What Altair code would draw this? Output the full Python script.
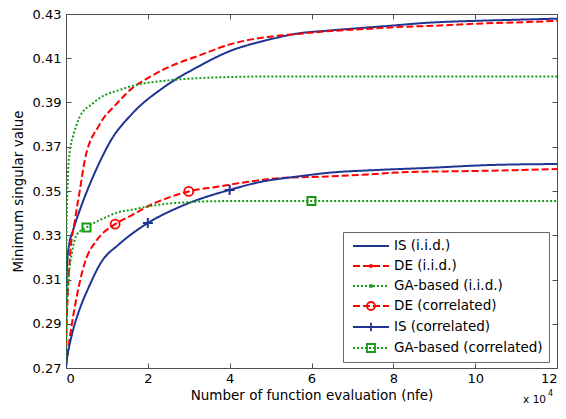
import altair as alt
import pandas as pd

# ---------------- data ----------------
names = ["IS (i.i.d.)", "DE (i.i.d.)", "GA-based (i.i.d.)",
         "DE (correlated)", "IS (correlated)", "GA-based (correlated)"]
colors = ["#1f3592", "#ff0000", "#179b17", "#ff0000", "#1f3592", "#179b17"]
dashes = [[1, 0], [7, 3], [2, 2], [7, 3], [1, 0], [2, 2]]

is_iid_x = [0, 100, 250, 700, 1700, 3400, 6500, 9000, 10700, 16200, 24000, 32500,
            40000, 48700, 56700, 64000, 73000, 80000, 88000, 100000, 110000, 120000]
is_iid_y = [0.27, 0.303, 0.316, 0.325, 0.332, 0.3415, 0.356, 0.366, 0.372, 0.385, 0.397, 0.4064,
            0.4132, 0.418, 0.4212, 0.4225, 0.4238, 0.4248, 0.426, 0.4269, 0.4274, 0.4279]

de_iid_x = [0, 250, 500, 1000, 2200, 3400, 4600, 8200, 12400, 16200, 20400, 24500, 32500,
            40500, 48700, 56700, 64000, 73000, 80000, 90000, 100000, 110000, 120000]
de_iid_y = [0.28, 0.296, 0.306, 0.321, 0.337, 0.3505, 0.364, 0.380, 0.3895, 0.3965, 0.4015, 0.4055, 0.4112,
            0.4165, 0.4195, 0.4210, 0.4222, 0.4232, 0.4240, 0.4247, 0.4256, 0.4262, 0.4269]

ga_iid_x = [0, 50, 120, 250, 500, 1000, 1700, 3400, 6500, 8200, 13000, 16200, 25000,
            32500, 40000, 50000, 120000]
ga_iid_y = [0.275, 0.31, 0.33, 0.344, 0.358, 0.369, 0.3745, 0.3837, 0.3895, 0.392, 0.3956, 0.3975, 0.400,
            0.401, 0.4015, 0.4018, 0.4018]

de_cor_x = [0, 500, 1450, 2700, 4600, 7500, 12000, 16000, 21000, 25200, 30000, 37300,
            44600, 52000, 64000, 72000, 84000, 98600, 120000]
de_cor_y = [0.271, 0.278, 0.290, 0.303, 0.3176, 0.3277, 0.335, 0.339, 0.344, 0.3471, 0.3498, 0.352,
            0.3542, 0.3558, 0.3566, 0.3573, 0.3586, 0.359, 0.3599]

is_cor_x = [0, 250, 700, 1700, 3400, 5800, 8500, 13000, 16000, 20000, 29300, 40000,
            47800, 56000, 64000, 76000, 88000, 103000, 120000]
is_cor_y = [0.27, 0.2745, 0.279, 0.287, 0.2969, 0.3075, 0.3175, 0.326, 0.3305, 0.3355, 0.344, 0.3505,
            0.3542, 0.3564, 0.3582, 0.3595, 0.3604, 0.3617, 0.3622]

ga_cor_x = [0, 100, 250, 500, 1450, 2700, 5000, 9000, 13000, 16000, 20000, 24500,
            29300, 34000, 45000, 60000, 120000]
ga_cor_y = [0.273, 0.285, 0.297, 0.3075, 0.322, 0.3305, 0.3335, 0.3375, 0.3405, 0.3415, 0.343, 0.3442,
            0.3449, 0.3453, 0.3455, 0.3455, 0.3455]

# markers on the correlated curves
de_mark_x = [12000, 30000]
de_mark_y = [0.335, 0.3498]
is_mark_x = [20000, 40000]
is_mark_y = [0.3355, 0.3505]
ga_mark_x = [5000, 60000]
ga_mark_y = [0.3335, 0.3455]

x_ticks = [0, 20000, 40000, 60000, 80000, 100000, 120000]
y_ticks = [0.27, 0.29, 0.31, 0.33, 0.35, 0.37, 0.39, 0.41, 0.43]

# ---------------- build tables ----------------
series_xy = [(is_iid_x, is_iid_y), (de_iid_x, de_iid_y), (ga_iid_x, ga_iid_y),
             (de_cor_x, de_cor_y), (is_cor_x, is_cor_y), (ga_cor_x, ga_cor_y)]
rows = []
for name, (xs, ys) in zip(names, series_xy):
    for i, (a, b) in enumerate(zip(xs, ys)):
        rows.append({"series": name, "x": a, "y": b, "i": i})
lines_df = pd.DataFrame(rows)

FONT = "DejaVu Sans"
AX = "#505050"

xscale = alt.Scale(domain=[0, 120000], nice=False, zero=False)
yscale = alt.Scale(domain=[0.27, 0.43], nice=False, zero=False)

x_bottom = alt.Axis(values=x_ticks, labelExpr="datum.value / 10000", title="Number of function evaluation (nfe)",
                    grid=False, tickSize=alt.ExprRef(expr="-5"), labelPadding=9.5, titlePadding=3,
                    domainColor=AX, tickColor=AX, labelFont=FONT, labelFontSize=13, labelColor="black",
                    titleFont=FONT, titleFontSize=13.5, titleFontWeight="normal", titleColor="black")
y_left = alt.Axis(values=y_ticks, format=".2f", title="Minimum singular value",
                  grid=False, tickSize=alt.ExprRef(expr="-5"), labelPadding=10, titlePadding=7,
                  domainColor=AX, tickColor=AX, labelFont=FONT, labelFontSize=13, labelColor="black",
                  titleFont=FONT, titleFontSize=13.5, titleFontWeight="normal", titleColor="black")
x_top = alt.Axis(values=x_ticks, orient="top", labels=False, title=None, grid=False,
                 tickSize=alt.ExprRef(expr="-5"), domainColor=AX, tickColor=AX)
y_right = alt.Axis(values=y_ticks, orient="right", labels=False, title=None, grid=False,
                   tickSize=alt.ExprRef(expr="-5"), domainColor=AX, tickColor=AX)

lines = alt.Chart(lines_df).mark_line(interpolate="monotone", strokeWidth=2, clip=True).encode(
    x=alt.X("x:Q", scale=xscale, axis=x_bottom),
    y=alt.Y("y:Q", scale=yscale, axis=y_left),
    color=alt.Color("series:N", scale=alt.Scale(domain=names, range=colors), legend=None),
    strokeDash=alt.StrokeDash("series:N", scale=alt.Scale(domain=names, range=dashes), legend=None),
    order="i:Q",
)


def markers(xs, ys, color, shape, size, sw):
    df = pd.DataFrame({"x": xs, "y": ys})
    return alt.Chart(df).mark_point(shape=shape, filled=False, size=size, strokeWidth=sw,
                                    color=color, opacity=1).encode(
        x=alt.X("x:Q", scale=xscale, axis=None),
        y=alt.Y("y:Q", scale=yscale, axis=None),
    )


m_de = markers(de_mark_x, de_mark_y, "#ff0000", "circle", 81, 1.8)
m_is = markers(is_mark_x, is_mark_y, "#1f3592", "M-1,0H1M0,-1V1", 100, 2)
m_ga = markers(ga_mark_x, ga_mark_y, "#179b17", "square", 64, 2)

# legend symbols: line (drawn as dash pieces) with the series' marker; unit = 7 px
UNIT = 7.0
X0, X1 = -0.571, 4.571


def line_path(pattern):
    on, off = pattern[0] / UNIT, pattern[1] / UNIT
    if off == 0:
        return "M%.3f,0H%.3f" % (X0, X1)
    parts, a = [], X0
    while a < X1:
        b = min(a + on, X1)
        parts.append("M%.3f,0H%.3f" % (a, b))
        a = b + off
    return "".join(parts)


DOT = "M1.83,0A0.17,0.17 0 1,0 2.17,0A0.17,0.17 0 1,0 1.83,0"
CIRC = "M1.43,0A0.57,0.57 0 1,0 2.57,0A0.57,0.57 0 1,0 1.43,0"
PLUS = "M2,-0.6V0.6"
SQR = "M1.43,-0.57H2.57V0.57H1.43Z"
extras = ["", DOT, DOT, CIRC, PLUS, SQR]
sym_paths = [line_path(d) + e for d, e in zip(dashes, extras)]

leg = alt.Legend(orient="none", legendX=277, legendY=218, title=None,
                 labelFont=FONT, labelFontSize=13.5, labelColor="black", labelLimit=400,
                 symbolSize=196, labelOffset=29, rowPadding=5, padding=6,
                 strokeColor="#666", fillColor="white", symbolStrokeWidth=1.8,
                 symbolFillColor="transparent")

legend_df = pd.DataFrame({"key": names, "x": [0] * 6, "y": [0.27] * 6})
legend_layer = alt.Chart(legend_df).transform_filter("false").mark_point(
    filled=False, opacity=1, strokeWidth=1.8).encode(
    x=alt.X("x:Q", scale=xscale, axis=x_top),
    y=alt.Y("y:Q", scale=yscale, axis=y_right),
    color=alt.Color("key:N", scale=alt.Scale(domain=names, range=colors), legend=leg),
    shape=alt.Shape("key:N", scale=alt.Scale(domain=names, range=sym_paths), legend=leg),
)

exp_df = pd.DataFrame({"t": ["x 10"], "e": ["4"]})
exp_base = alt.Chart(exp_df).mark_text(font=FONT, fontSize=10.5, align="right", baseline="middle",
                                       color="black").encode(
    x=alt.value(480), y=alt.value(386), text="t:N")
exp_sup = alt.Chart(exp_df).mark_text(font=FONT, fontSize=8, align="left", baseline="middle",
                                      color="black").encode(
    x=alt.value(482), y=alt.value(380), text="e:N")

chart = alt.layer(lines, m_de, m_is, m_ga, legend_layer, exp_base, exp_sup).resolve_scale(
    color="independent", strokeDash="independent", shape="independent"
).resolve_axis(
    x="independent", y="independent"
).properties(
    width=491, height=354,
    autosize=alt.AutoSizeParams(type="none"),
    padding={"left": 58, "top": 6, "right": 1, "bottom": 37},
    background="white",
).configure_view(strokeWidth=0)

chart.save("out.html", embed_options={"renderer": "svg", "actions": False})
